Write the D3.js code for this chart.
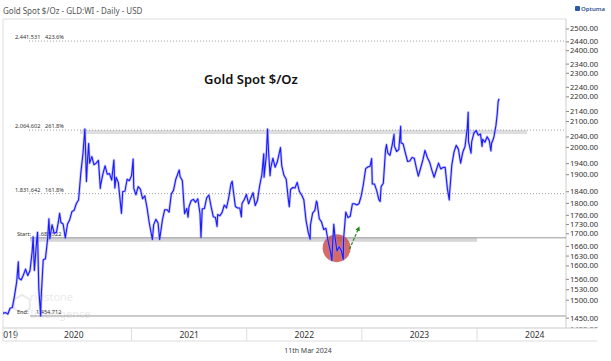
<!DOCTYPE html>
<html>
<head>
<meta charset="utf-8">
<script src="https://cdn.jsdelivr.net/npm/d3@7"></script>
<style>
  body { margin: 0; background: #fff; }
  svg { display: block; font-family: "Noto Sans", "Open Sans", sans-serif; }
</style>
</head>
<body>
<div id="chart"></div>
<script>
// Gold spot, weekly closes plus a few intraweek extremes
const gold2019 = [["2019-11-12",1456],["2019-11-15",1468],["2019-11-22",1462],["2019-11-29",1464],["2019-12-06",1460],["2019-12-13",1476],["2019-12-20",1478],["2019-12-27",1511]];
const gold2020 = [["2020-01-03",1552],["2020-01-08",1611],["2020-01-10",1562],["2020-01-17",1557],["2020-01-24",1571],["2020-01-31",1589],["2020-02-07",1570],["2020-02-14",1584],["2020-02-21",1643],["2020-02-24",1689],["2020-02-28",1585],["2020-03-06",1674],["2020-03-09",1703],["2020-03-13",1530],["2020-03-19",1455],["2020-03-20",1498],["2020-03-27",1617],["2020-04-03",1620],["2020-04-10",1683],["2020-04-14",1747],["2020-04-17",1683],["2020-04-24",1727],["2020-05-01",1700],["2020-05-08",1703],["2020-05-15",1743],["2020-05-18",1765],["2020-05-22",1735],["2020-05-29",1730],["2020-06-05",1685],["2020-06-12",1730],["2020-06-19",1744],["2020-06-26",1771],["2020-07-03",1775],["2020-07-10",1798],["2020-07-17",1810],["2020-07-24",1902],["2020-07-31",1975],["2020-08-06",2069],["2020-08-07",2035],["2020-08-11",1874],["2020-08-14",1944],["2020-08-18",2013],["2020-08-21",1940],["2020-08-28",1964],["2020-09-04",1934],["2020-09-11",1940],["2020-09-18",1950],["2020-09-24",1850],["2020-09-25",1861],["2020-10-02",1900],["2020-10-09",1930],["2020-10-16",1900],["2020-10-23",1902],["2020-10-30",1879],["2020-11-06",1951],["2020-11-09",1851],["2020-11-13",1889],["2020-11-20",1871],["2020-11-30",1765],["2020-12-04",1839],["2020-12-11",1840],["2020-12-18",1882],["2020-12-25",1877]];
const gold2021 = [["2021-01-01",1895],["2021-01-06",1955],["2021-01-08",1850],["2021-01-15",1828],["2021-01-22",1856],["2021-01-29",1847],["2021-02-05",1814],["2021-02-12",1824],["2021-02-19",1784],["2021-02-26",1734],["2021-03-08",1680],["2021-03-12",1727],["2021-03-19",1745],["2021-03-26",1733],["2021-03-31",1680],["2021-04-09",1744],["2021-04-16",1777],["2021-04-23",1777],["2021-04-30",1769],["2021-05-07",1831],["2021-05-14",1843],["2021-05-21",1881],["2021-05-28",1903],["2021-06-01",1915],["2021-06-04",1891],["2021-06-11",1877],["2021-06-18",1764],["2021-06-25",1781],["2021-06-29",1752],["2021-07-02",1787],["2021-07-09",1808],["2021-07-16",1812],["2021-07-23",1802],["2021-07-30",1814],["2021-08-06",1763],["2021-08-09",1687],["2021-08-13",1780],["2021-08-20",1781],["2021-08-27",1817],["2021-09-03",1827],["2021-09-10",1788],["2021-09-17",1754],["2021-09-24",1751],["2021-09-29",1722],["2021-10-01",1761],["2021-10-08",1757],["2021-10-15",1768],["2021-10-22",1793],["2021-10-29",1783],["2021-11-05",1818],["2021-11-12",1865],["2021-11-16",1875],["2021-11-19",1846],["2021-11-26",1788],["2021-12-03",1783],["2021-12-10",1783],["2021-12-15",1753],["2021-12-17",1798],["2021-12-24",1811],["2021-12-31",1829]];
const gold2022 = [["2022-01-07",1797],["2022-01-14",1817],["2022-01-21",1835],["2022-01-28",1791],["2022-02-04",1808],["2022-02-11",1859],["2022-02-18",1898],["2022-02-24",1974],["2022-02-25",1889],["2022-03-04",1966],["2022-03-08",2069],["2022-03-11",1988],["2022-03-16",1895],["2022-03-18",1921],["2022-03-25",1958],["2022-04-01",1925],["2022-04-08",1945],["2022-04-18",1998],["2022-04-22",1931],["2022-04-29",1896],["2022-05-06",1883],["2022-05-13",1811],["2022-05-16",1787],["2022-05-20",1846],["2022-05-27",1853],["2022-06-03",1851],["2022-06-10",1871],["2022-06-17",1839],["2022-06-24",1827],["2022-07-01",1811],["2022-07-08",1742],["2022-07-15",1703],["2022-07-21",1681],["2022-07-22",1727],["2022-07-29",1766],["2022-08-05",1775],["2022-08-10",1806],["2022-08-12",1802],["2022-08-19",1747],["2022-08-26",1737],["2022-09-02",1712],["2022-09-09",1716],["2022-09-16",1675],["2022-09-23",1644],["2022-09-28",1615],["2022-09-30",1661],["2022-10-04",1729],["2022-10-07",1695],["2022-10-14",1644],["2022-10-21",1657],["2022-10-28",1645],["2022-11-03",1618],["2022-11-04",1681],["2022-11-11",1769],["2022-11-18",1751],["2022-11-25",1755],["2022-12-02",1797],["2022-12-09",1797],["2022-12-16",1793],["2022-12-23",1798],["2022-12-30",1824]];
const gold2023 = [["2023-01-06",1866],["2023-01-13",1920],["2023-01-20",1926],["2023-01-27",1929],["2023-02-01",1957],["2023-02-03",1865],["2023-02-10",1865],["2023-02-17",1842],["2023-02-24",1811],["2023-02-28",1805],["2023-03-03",1856],["2023-03-10",1868],["2023-03-17",1989],["2023-03-20",2009],["2023-03-24",1978],["2023-03-31",1969],["2023-04-07",2007],["2023-04-13",2048],["2023-04-14",2004],["2023-04-21",1983],["2023-04-28",1990],["2023-05-04",2079],["2023-05-05",2016],["2023-05-12",2011],["2023-05-19",1977],["2023-05-26",1946],["2023-06-02",1948],["2023-06-09",1961],["2023-06-16",1958],["2023-06-23",1921],["2023-06-29",1893],["2023-07-07",1925],["2023-07-14",1955],["2023-07-20",1987],["2023-07-28",1959],["2023-08-04",1943],["2023-08-11",1914],["2023-08-18",1889],["2023-08-25",1915],["2023-09-01",1940],["2023-09-08",1919],["2023-09-15",1924],["2023-09-22",1925],["2023-09-29",1849],["2023-10-05",1810],["2023-10-06",1832],["2023-10-13",1932],["2023-10-20",1981],["2023-10-27",2006],["2023-11-03",1992],["2023-11-10",1940],["2023-11-17",1981],["2023-11-24",2002],["2023-12-01",2072],["2023-12-04",2135],["2023-12-05",2019],["2023-12-08",2005],["2023-12-13",1977],["2023-12-15",2019],["2023-12-22",2053],["2023-12-29",2063]];
const gold2024 = [["2024-01-05",2045],["2024-01-12",2049],["2024-01-17",2002],["2024-01-19",2029],["2024-01-26",2018],["2024-02-02",2039],["2024-02-09",2024],["2024-02-14",1985],["2024-02-16",2013],["2024-02-23",2035],["2024-03-01",2083],["2024-03-05",2128],["2024-03-08",2179],["2024-03-11",2190]];

// Fibonacci levels
const fibValues = [2441.531, 2064.602, 1831.642];
const fibLabels = ["2,441.531", "2,064.602", "1,831.642"];
const fibPercents = ["423.6%", "261.8%", "161.8%"];
const startValue = 1685.522;
const endValue = 1454.712;

// Axis ticks
const yTickValues = [2560, 2500, 2440, 2400, 2340, 2300, 2240, 2200, 2140, 2100, 2040, 2000, 1940, 1900, 1840, 1800, 1760, 1730, 1700, 1660, 1630, 1600, 1560, 1530, 1500, 1450, 1420];
const years = [2019, 2020, 2021, 2022, 2023, 2024];

const parse = d3.timeParse("%Y-%m-%d");
const series = [gold2019, gold2020, gold2021, gold2022, gold2023, gold2024]
  .flat()
  .map(([d, v]) => ({ date: parse(d), value: v }));

// layout
const W = 611, H = 361;
const plot = { left: 3, right: 566, top: 19, bottom: 328 };
const axisBand = { top: 328, bottom: 341, right: 597 };

const svg = d3.select("#chart").append("svg").attr("width", W).attr("height", H);

const x = d3.scaleTime()
  .domain([parse("2019-11-11"), parse("2024-10-09")])
  .range([0, 566]);
const y = d3.scaleLog().domain([1450, 2500]).range([317.7, 28.5]);

const defs = svg.append("defs");
defs.append("clipPath").attr("id", "plotClip")
  .append("rect")
  .attr("x", plot.left).attr("y", plot.top)
  .attr("width", plot.right - plot.left).attr("height", plot.bottom - plot.top);
defs.append("clipPath").attr("id", "axisClip")
  .append("rect")
  .attr("x", plot.right).attr("y", plot.top + 1)
  .attr("width", W - plot.right).attr("height", plot.bottom - plot.top - 1);
defs.append("clipPath").attr("id", "bandClip")
  .append("rect")
  .attr("x", plot.left).attr("y", axisBand.top)
  .attr("width", axisBand.right - plot.left).attr("height", axisBand.bottom - axisBand.top);
defs.append("marker").attr("id", "arrowHead")
  .attr("viewBox", "0 0 10 10").attr("refX", 6).attr("refY", 5)
  .attr("markerWidth", 4).attr("markerHeight", 4).attr("orient", "auto")
  .append("path").attr("d", "M0,0L10,5L0,10z").attr("fill", "#1f8a1f");

// top title
svg.append("text").attr("x", 3).attr("y", 14)
  .attr("font-size", 8).attr("fill", "#555")
  .text("Gold Spot $/Oz - GLD:WI - Daily - USD");

// Optuma logo
svg.append("rect").attr("x", 575).attr("y", 6).attr("width", 5).attr("height", 5)
  .attr("rx", 1).attr("fill", "#2b5aa8");
svg.append("text").attr("x", 581).attr("y", 11)
  .attr("font-size", 6).attr("fill", "#2b4f8f").attr("font-weight", 600)
  .text("Optuma");

// plot frame
svg.append("line").attr("x1", plot.left).attr("x2", plot.right)
  .attr("y1", plot.top).attr("y2", plot.top).attr("stroke", "#ddd");
svg.append("line").attr("x1", plot.left).attr("x2", plot.left)
  .attr("y1", plot.top).attr("y2", axisBand.bottom).attr("stroke", "#ddd");
svg.append("line").attr("x1", plot.right).attr("x2", plot.right)
  .attr("y1", plot.top).attr("y2", plot.bottom).attr("stroke", "#ccc");

const g = svg.append("g").attr("clip-path", "url(#plotClip)");

// watermark
const wm = g.append("g").attr("opacity", 0.12);
const hex = d3.range(6).map(i => {
  const a = Math.PI / 3 * i + Math.PI / 6;
  return [22 + 9 * Math.cos(a), 304 + 9 * Math.sin(a)];
});
wm.append("polygon").attr("points", hex.map(p => p.join(",")).join(" "))
  .attr("fill", "none").attr("stroke", "#555").attr("stroke-width", 2);
wm.append("text").attr("x", 30).attr("y", 301).attr("font-size", 11)
  .attr("fill", "#555").text("ridstone");
wm.append("text").attr("x", 30).attr("y", 318).attr("font-size", 11)
  .attr("fill", "#555").text("Intelligence");

// fib bands
g.append("rect").attr("x", 80).attr("width", 527 - 80)
  .attr("y", y(2064.602)).attr("height", 4).attr("fill", "#dedede");
g.append("rect").attr("x", 30).attr("width", 477 - 30)
  .attr("y", y(startValue)).attr("height", 4).attr("fill", "#d6d6d6");

// fib dotted lines
g.selectAll(".fib").data(fibValues).join("line")
  .attr("class", "fib")
  .attr("x1", 29).attr("x2", plot.right)
  .attr("y1", d => y(d)).attr("y2", d => y(d))
  .attr("stroke", "#888").attr("stroke-width", 0.8)
  .attr("stroke-dasharray", "1,2");

// start / end lines
g.append("line").attr("x1", 30).attr("x2", plot.right)
  .attr("y1", y(startValue)).attr("y2", y(startValue))
  .attr("stroke", "#9a9a9a").attr("stroke-width", 1);
g.append("line").attr("x1", 30).attr("x2", plot.right)
  .attr("y1", y(endValue)).attr("y2", y(endValue))
  .attr("stroke", "#9a9a9a").attr("stroke-width", 1);

// fib labels
const fibText = g.append("g").attr("font-size", 5.6).attr("fill", "#333");
fibValues.forEach((v, i) => {
  fibText.append("text").attr("x", 15).attr("y", y(v) - 2).text(fibLabels[i]);
  fibText.append("text").attr("x", 45).attr("y", y(v) - 2).text(fibPercents[i]);
});
fibText.append("text").attr("x", 17).attr("y", y(startValue) - 2).text("Start:");
fibText.append("text").attr("x", 36).attr("y", y(startValue) - 2).text("1,685.522");
fibText.append("text").attr("x", 17).attr("y", y(endValue) - 2).text("End:");
fibText.append("text").attr("x", 36).attr("y", y(endValue) - 2).text("1,454.712");

// red circle annotation
g.append("circle")
  .attr("cx", x(parse("2022-10-13"))).attr("cy", y(1653)).attr("r", 14)
  .attr("fill", "#c9413a").attr("opacity", 0.78);

// price line
const line = d3.line().x(d => x(d.date)).y(d => y(d.value));
g.append("path").datum(series).attr("d", line)
  .attr("fill", "none").attr("stroke", "#8f8fff").attr("stroke-width", 2.6)
  .attr("stroke-opacity", 0.55).attr("stroke-linejoin", "round");
g.append("path").datum(series).attr("d", line)
  .attr("fill", "none").attr("stroke", "#1a1aff").attr("stroke-width", 1.1)
  .attr("stroke-linejoin", "round");

// green arrow
g.append("line")
  .attr("x1", x(parse("2022-11-23"))).attr("y1", y(1650))
  .attr("x2", x(parse("2022-12-22"))).attr("y2", y(1717))
  .attr("stroke", "#1f8a1f").attr("stroke-width", 1.2)
  .attr("stroke-dasharray", "3,1.5")
  .attr("marker-end", "url(#arrowHead)");

// big title
svg.append("text").attr("x", 251).attr("y", 84).attr("text-anchor", "middle")
  .attr("font-size", 13).attr("font-weight", 600).attr("fill", "#111")
  .text("Gold Spot $/Oz");

// y axis
const yAxis = d3.axisRight(y).tickValues(yTickValues).tickSize(3)
  .tickFormat(d3.format(".2f"));
const yAxisG = svg.append("g").attr("clip-path", "url(#axisClip)")
  .append("g").attr("transform", `translate(${plot.right},0)`).call(yAxis);
yAxisG.select(".domain").remove();
yAxisG.selectAll(".tick line").attr("stroke", "#888");
yAxisG.selectAll(".tick text").attr("x", 4).attr("font-size", 7.6)
  .attr("fill", "#333").attr("font-family", "Noto Sans, sans-serif");

// x axis band
svg.append("line").attr("x1", plot.left).attr("x2", axisBand.right)
  .attr("y1", axisBand.top).attr("y2", axisBand.top).attr("stroke", "#ccc");
svg.append("line").attr("x1", plot.left).attr("x2", axisBand.right)
  .attr("y1", axisBand.bottom).attr("y2", axisBand.bottom).attr("stroke", "#ddd");

const band = svg.append("g").attr("clip-path", "url(#bandClip)");
const yearStart = yr => x(new Date(yr, 0, 1));
years.forEach(yr => {
  const x0 = Math.max(0, yearStart(yr));
  const x1 = Math.min(axisBand.right, yearStart(yr + 1));
  if (yr > years[0]) {
    band.append("line").attr("x1", x0).attr("x2", x0)
      .attr("y1", axisBand.top).attr("y2", axisBand.bottom).attr("stroke", "#ddd");
  }
  band.append("text").attr("x", (x0 + x1) / 2).attr("y", 338)
    .attr("text-anchor", "middle").attr("font-size", 8.5).attr("fill", "#333")
    .text(yr);
});

// date stamp
svg.append("text").attr("x", 308).attr("y", 353).attr("text-anchor", "middle")
  .attr("font-size", 7).attr("fill", "#444").text("11th Mar 2024");
</script>
</body>
</html>
